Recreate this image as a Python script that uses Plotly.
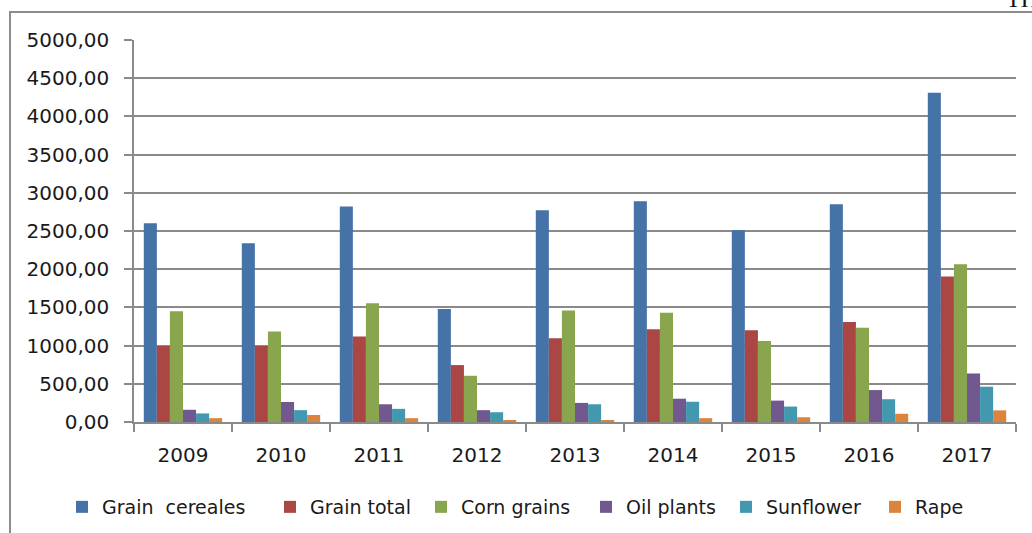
import plotly.graph_objects as go

years = ["2009", "2010", "2011", "2012", "2013", "2014", "2015", "2016", "2017"]
grain_cereales = [2600, 2340, 2820, 1480, 2770, 2890, 2510, 2850, 4310]
grain_total = [995, 995, 1120, 745, 1095, 1215, 1200, 1310, 1905]
corn_grains = [1450, 1185, 1555, 605, 1460, 1430, 1060, 1235, 2065]
oil_plants = [160, 262, 232, 155, 250, 305, 280, 418, 635]
sunflower = [112, 155, 172, 128, 232, 265, 202, 298, 462]
rape = [50, 92, 50, 17, 17, 50, 62, 108, 152]

series_names = ["Grain\u00a0 cereales", "Grain total", "Corn grains", "Oil plants", "Sunflower", "Rape"]
series_values = [grain_cereales, grain_total, corn_grains, oil_plants, sunflower, rape]
colors = ["#4572A7", "#AA4643", "#89A54E", "#71588F", "#4198AF", "#DB843D"]

# plot area in pixels
L, R, T, B = 134, 16, 40, 111
W, H = 1032, 533
PW, PH = W - L - R, H - T - B

def px_x(px):
    return (px - L) / PW

def px_y(py):
    return (H - B - py) / PH

FONT = "DejaVu Sans"
legend_text_x = [103, 311, 462, 627, 767, 916]

fig = go.Figure()
for i, (name, vals, col) in enumerate(zip(series_names, series_values, colors)):
    lg = "legend" if i == 0 else f"legend{i+1}"
    fig.add_trace(go.Bar(x=years, y=vals, name=name, marker_color=col,
                         marker_line_width=0, legend=lg))

legend_common = dict(orientation="h", yanchor="middle", xanchor="left",
                     bgcolor="rgba(0,0,0,0)", borderwidth=0,
                     font=dict(family=FONT, size=19, color="#1a1a1a"),
                     itemwidth=30)
layout_legends = {}
for i, tx in enumerate(legend_text_x):
    key = "legend" if i == 0 else f"legend{i+1}"
    layout_legends[key] = dict(legend_common, x=px_x(tx - 41), y=px_y(507))

fig.update_layout(
    width=W, height=H,
    margin=dict(l=L, r=R, t=T, b=B, pad=0, autoexpand=False),
    paper_bgcolor="white", plot_bgcolor="white",
    barmode="group", bargap=0.2, bargroupgap=0.0,
    separators=", ",
    font=dict(family=FONT, size=20, color="#1a1a1a"),
    showlegend=True,
    **layout_legends,
)

fig.update_yaxes(range=[0, 5000], dtick=500, tickformat=".2f",
                 showgrid=True, gridcolor="#8a8a8a", gridwidth=1.5,
                 showline=True, linecolor="#8a8a8a", linewidth=1.5,
                 ticks="outside", ticklen=8, tickcolor="#8a8a8a", tickwidth=1.5,
                 ticklabelstandoff=11, zeroline=False, automargin=False,
                 tickfont=dict(family=FONT, size=20, color="#1a1a1a"))
fig.update_xaxes(showline=True, linecolor="#8a8a8a", linewidth=1.5,
                 ticks="outside", tickson="boundaries", ticklen=8,
                 tickcolor="#8a8a8a", tickwidth=1.5, ticklabelstandoff=14,
                 showgrid=False, automargin=False,
                 tickfont=dict(family=FONT, size=20, color="#1a1a1a"))

# outer frame (left and top edges visible)
fig.add_shape(type="rect", xref="paper", yref="paper",
              x0=px_x(10), x1=px_x(1045), y0=px_y(550), y1=px_y(12),
              line=dict(color="#8c8c8c", width=2), fillcolor="rgba(0,0,0,0)",
              layer="below")

# cropped header text at the top-right corner
fig.add_annotation(text="TH", xref="paper", yref="paper",
                   x=px_x(1004), y=px_y(14), xanchor="left", yanchor="bottom",
                   showarrow=False,
                   font=dict(family="Liberation Serif", size=24, color="#111111"))

fig.write_html("out.html", config={"displayModeBar": False},
               post_script="document.body.style.margin='0px';document.body.style.overflow='hidden';")
